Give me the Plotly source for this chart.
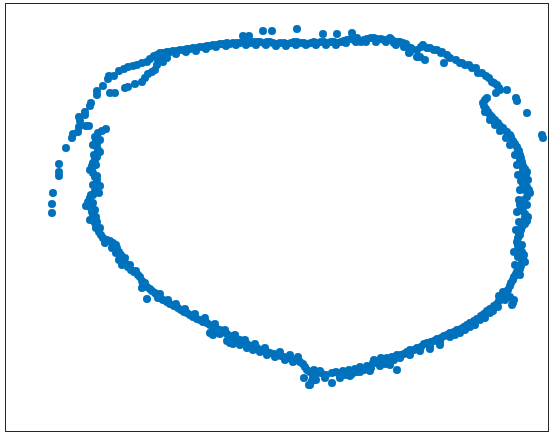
import plotly.graph_objects as go

# Measured point positions (x, y) — y grows downward (axis reversed)
outer_arc = [(52,213),(52,204),(53,193),(59,176),(59,172),(59,164),(66,148),(72,138),(73,134),(78,132),(79,127),(80,121),(79,117),(85,115),(85,112),(90,106),(91,103),(97,95),(97,91),(103,86),(108,79),(109,76),(114,76),(119,71),(124,69),(128,67),(133,66),(137,65),(142,63),(147,62),(150,59),(154,56),(157,55),(160,53),(163,53),(167,52),(170,52),(173,51),(177,51),(180,50),(184,50),(187,49),(190,49),(193,48),(197,48),(200,47),(204,47),(207,46),(210,46),(213,45),(217,45),(220,44),(223,44),(227,43),(230,44),(233,43),(237,43),(240,43),(244,42),(247,42),(250,43),(253,42),(257,42),(260,42),(264,43),(267,42),(270,42),(273,43),(277,44),(280,43),(284,43),(287,44),(291,43),(294,42),(297,42),(301,43),(304,43),(307,44),(311,43),(314,42),(317,43),(321,42),(324,42),(327,43),(331,42),(334,42),(337,43),(341,42),(344,41),(347,40),(351,39),(354,40),(357,38),(361,42),(364,40),(367,39),(371,38),(374,38),(377,39),(381,39),(384,40),(387,40),(390,38),(392,40),(394,43),(397,42),(400,42),(403,43),(406,44),(408,47),(411,48),(410,52),(409,53),(417,50),(421,47),(423,45),(427,48),(430,48),(434,50),(437,50),(441,53),(442,52),(447,55),(450,58),(456,60),(460,63),(462,63),(465,65),(469,65),(472,68),(476,68),(478,73),(482,73),(486,76),(489,78),(492,82),(494,83),(497,85),(499,88),(500,90),(507,90),(516,98),(517,101),(527,113),(542,135),(543,138)]

top_band_lower = [(166,55),(176,54),(186,52),(196,51),(206,49),(216,47),(226,46),(236,45),(246,45),(256,45),(266,45),(276,46),(286,46),(296,45),(306,45),(316,45),(326,45),(336,45),(346,43),(356,42),(366,42),(376,42),(386,42),(396,45),(404,47)]

top_strays = [(243,36),(249,36),(263,31),(272,31),(297,29),(323,34),(337,34),(352,33),(420,57),(425,60),(417,57),(444,63),(496,93)]

inner_dashed = [(86,126),(89,126),(110,93),(115,93),(125,88),(128,87),(135,84),(142,82),(145,78),(148,74),(152,72),(155,70),(157,65),(158,60),(163,62),(167,58),(160,57)]

left_bottom = [(106,129),(102,131),(98,133),(95,137),(96,140),(97,143),(97,147),(98,150),(97,154),(97,157),(95,160),(93,163),(92,166),(92,169),(93,173),(95,177),(97,180),(97,184),(97,187),(95,191),(93,195),(90,198),(88,202),(90,205),(91,208),(92,212),(93,216),(94,219),(96,217),(95,223),(96,228),(99,232),(101,235),(103,238),(107,240),(110,241),(113,243),(116,245),(117,248),(119,252),(121,255),(122,258),(124,261),(126,264),(128,267),(131,270),(134,272),(138,275),(140,277),(142,281),(143,284),(147,287),(150,289),(152,291),(155,293),(157,295),(160,298),(163,300),(167,302),(170,304),(174,306),(178,308),(181,310),(184,312),(187,313),(190,315),(193,317),(197,319),(200,320),(203,322),(207,323),(210,325),(213,327),(217,329),(220,330),(223,332),(227,334),(230,336),(233,337),(237,339),(240,340),(243,342),(247,344),(250,346),(254,347),(257,348),(260,350),(263,351),(267,352),(270,353),(274,354),(277,355),(281,356),(284,357),(288,358),(291,359),(294,360),(298,360),(300,362),(303,364),(305,367),(307,370),(310,372),(313,375),(317,373),(320,371)]

left_thick = [(100,140),(100,152),(96,165),(97,176),(100,186),(99,193),(93,203),(95,210),(97,222),(142,288),(147,299),(158,298),(213,335),(210,333),(220,334),(227,341),(230,343),(233,344),(240,345),(247,348),(253,350),(260,352),(267,355),(275,357),(285,360),(293,362),(298,357),(309,385),(310,385),(313,378),(312,381),(304,378),
              (93,145),(94,155),(90,170),(93,185),(91,195),(86,206),(90,220),(100,228),(105,243),(112,248),(116,253),(119,260),(122,265),
              (125,258),(130,265),(136,271),(145,283),(160,294),(168,300),(176,304),(185,309),(195,314),(205,318),(215,324),(225,330),(235,335),(245,340),(255,344),(265,348),(280,352),(290,355)]

right_side = [(316,380),(314,370),(321,373),(326,375),(332,383),(332,373),(336,372),(339,374),(343,371),(346,372),(349,370),(352,374),(355,369),(357,372),(360,367),(364,370),(367,366),(371,368),(373,363),(374,360),(377,363),(379,362),(381,358),(384,360),(387,358),(389,362),(392,357),(394,360),(397,370),(397,355),(401,355),(404,354),(407,352),(410,350),(414,350),(417,348),(421,347),(424,344),(427,343),(431,342),(434,341),(437,339),(441,338),(444,336),(447,335),(450,333),(454,332),(457,330),(461,329),(464,327),(467,325),(470,323),(474,321),(477,319),(481,316),(484,314),(487,311),(490,309),(494,306),(497,304),(499,301),(502,299),(504,296),(506,293),(508,290),(510,286),(511,283),(513,280),(514,277),(516,274),(517,272),(520,269),(521,266),(522,262),(523,259),(524,255),(522,252),(520,249),(518,246),(517,242),(518,238),(519,234),(521,230),(522,227),(525,224),(527,221),(528,217),(525,214),(523,211),(521,208),(520,205),(522,202),(524,200),(527,197),(530,193),(529,190),(527,187),(523,184),(521,181),(523,178),(526,175),(527,172),(525,169),(523,166),(522,162),(521,158),(520,155),(519,151),(517,147),(515,144),(513,141),(511,137),(510,135),(507,132),(504,130),(503,128),(500,126),(498,123),(495,120),(492,117),(490,115),(488,112),(486,109),(484,106),(483,103),(485,100),(487,98)]

right_thick = [(512,305),(514,300),(513,303),(510,297),(420,351),(430,346),(440,342),(450,337),(460,333),(470,327),(480,320),(490,313),(498,307),(505,300),(499,296),(503,292),(340,378),(350,376),(360,372),(370,371),(380,366),(390,365),(518,150),(520,160),(523,170),(528,180),(525,190),(527,205),(525,218),(520,235),(522,245),(525,262),(520,275),
               (515,265),(518,257),(514,252),(516,230),(519,222),(517,212),(519,200),(520,190),(518,175),(517,165),(515,155),(510,145),(506,138),(500,131),(495,125),(490,120),(485,112),
               (455,335),(465,330),(475,325),(485,318),(493,311),(440,345),(430,349),(410,355),(400,358),(385,364),(365,369),(345,375),(325,378)]

segments = [outer_arc, top_band_lower, top_strays, inner_dashed, left_bottom, left_thick, right_side, right_thick]
xs = [p[0] for seg in segments for p in seg]
ys = [p[1] for seg in segments for p in seg]

fig = go.Figure(go.Scatter(
    x=xs, y=ys, mode="markers",
    marker=dict(size=8, color="#0072BD", line=dict(width=0)),
    hoverinfo="skip"))

axis_common = dict(showgrid=False, zeroline=False, showticklabels=False, ticks="",
                   showline=True, mirror=True, linecolor="#262626", linewidth=1)
fig.update_layout(
    width=554, height=440,
    margin=dict(l=6, r=6, t=4, b=9),
    paper_bgcolor="white", plot_bgcolor="white",
    showlegend=False,
    xaxis=dict(range=[6, 548], **axis_common),
    yaxis=dict(range=[431, 4], **axis_common),
)
fig.write_html("out.html")
